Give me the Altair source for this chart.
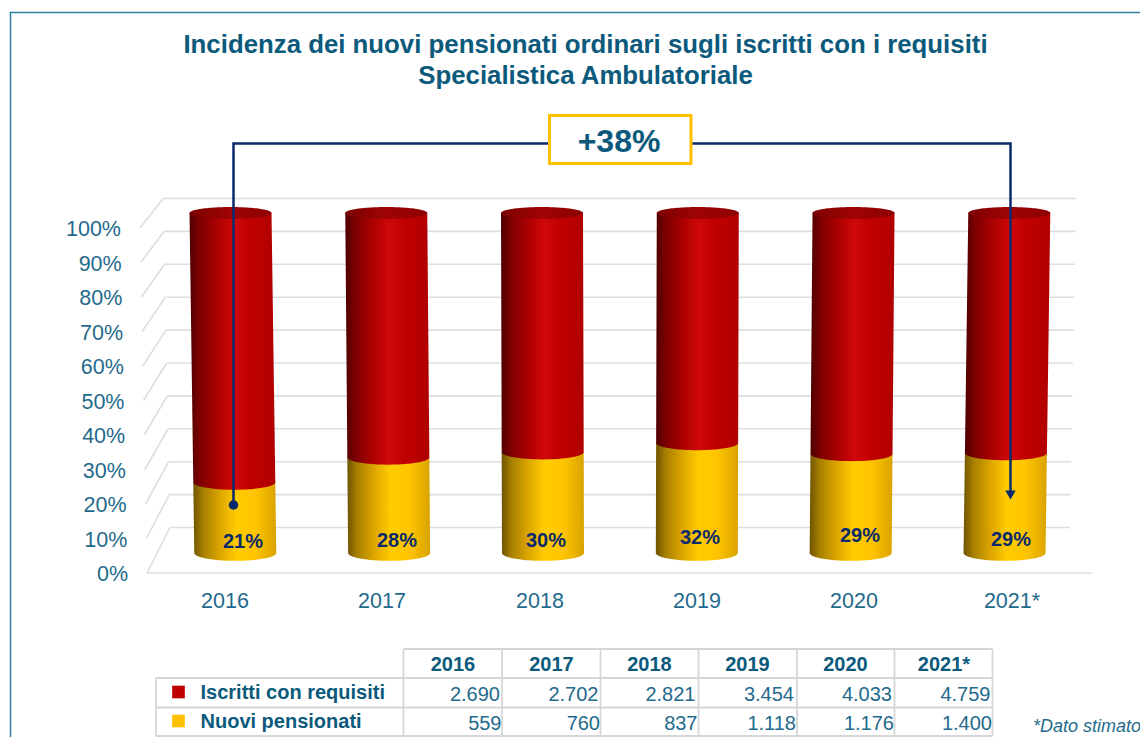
import math
import altair as alt
import pandas as pd

# ---- data ----
years = ["2016", "2017", "2018", "2019", "2020", "2021*"]
iscritti = [2690, 2702, 2821, 3454, 4033, 4759]
nuovi = [559, 760, 837, 1118, 1176, 1400]
tick_levels = [0, 10, 20, 30, 40, 50, 60, 70, 80, 90, 100]
title_lines = ["Incidenza dei nuovi pensionati ordinari sugli iscritti con i requisiti",
               "Specialistica Ambulatoriale"]
callout = "+38%"
note = "*Dato stimato"
series_names = ["Iscritti con requisiti", "Nuovi pensionati"]

# ---- layout ----
W, H = 1132, 729
TEAL = "#0b5a7c"
AXT = "#1f6a8c"
NAVY = "#0b2a6b"
GRID = "#dedede"


def sx(px):  # screen x -> slot units (1 slot = one cylinder spacing)
    return (px - 232.9) / 154.8


def sy(py):  # screen y -> percent of cylinder height
    return (553 - py) / 3.4


xs = alt.Scale(domain=[sx(8), sx(8 + W)], range=[0, W], nice=False, zero=False)
ys = alt.Scale(domain=[sy(8 + H), sy(8)], range=[H, 0], nice=False, zero=False)
X = alt.X("x:Q", scale=xs, axis=None, stack=None)
Y = alt.Y("y:Q", scale=ys, axis=None, stack=None)


def grad(stops):
    return alt.LinearGradient(
        gradient="linear", x1=0, x2=1, y1=0, y2=0,
        stops=[alt.GradientStop(color=c, offset=o) for o, c in stops])


RED = grad([(0, "#4f0000"), (0.12, "#7d0000"), (0.32, "#ab0000"), (0.52, "#d00808"), (0.72, "#c00000"), (1, "#b00000")])
YEL = grad([(0, "#6f5300"), (0.12, "#a87f00"), (0.32, "#dca500"), (0.52, "#ffcc00"), (0.75, "#ffc400"), (1, "#d9a300")])
TOP = grad([(0, "#7c0000"), (0.5, "#a00404"), (1, "#8c0000")])

R = 41.0


def center(i, level):
    c = 232.9 + 154.8 * i
    return c + 0.0123 * (c - 620) * (level - 50) / 100


def ry(level):
    return 6 + 1.8 * (100 - level) / 100


def shell(i, hi, lo):
    """Side outline from level hi down to level lo, closed by a curved lower edge."""
    rows = []
    for k in range(0, 11):
        lv = hi + (lo - hi) * k / 10
        c = center(i, lv)
        rows.append(dict(year=years[i], x=sx(c - R), x2=sx(c + R), y=lv))
    c = center(i, lo)
    base = 553 - 3.4 * lo
    for k in range(1, 31):
        t = k / 30 * math.pi / 2
        rows.append(dict(year=years[i], x=sx(c - R * math.cos(t)), x2=sx(c + R * math.cos(t)),
                         y=sy(base + ry(lo) * math.sin(t))))
    return rows


def disc(i, lv):
    rows = []
    c = center(i, lv)
    base = 553 - 3.4 * lv
    for k in range(0, 61):
        t = -math.pi / 2 + k / 60 * math.pi
        rows.append(dict(year=years[i], x=sx(c - R * math.cos(t)), x2=sx(c + R * math.cos(t)),
                         y=sy(base + ry(lv) * math.sin(t))))
    return rows


shares = [n / s * 100 for n, s in zip(nuovi, iscritti)]
yellow_rows, red_rows, top_rows = [], [], []
for i, sh in enumerate(shares):
    yellow_rows += shell(i, sh, 0)
    red_rows += shell(i, 100, sh)
    top_rows += disc(i, 100)


def area(rows, fill):
    return alt.Chart(pd.DataFrame(rows)).mark_area(orient="horizontal", color=fill, interpolate="linear").encode(
        x=X, x2="x2:Q", y=Y, detail="year:N")


def poly(rows, color, width):
    df = pd.DataFrame(rows)
    return alt.Chart(df).mark_line(color=color, strokeWidth=width, interpolate="linear").encode(
        x=X, y=Y, detail="g:N", order=alt.Order("o:Q"))


def seg(g, pts):
    return [dict(g=g, o=k, x=sx(a), y=sy(b)) for k, (a, b) in enumerate(pts)]


def text(rows, align="center", size=20, bold=False, color=TEAL, italic=False):
    return alt.Chart(pd.DataFrame(rows)).mark_text(
        align=align, baseline="middle", fontSize=size, font="Liberation Sans",
        fontWeight="bold" if bold else "normal", fontStyle="italic" if italic else "normal",
        color=color).encode(x=X, y=Y, text="t:N")


def cell(px, py, t):
    return dict(x=sx(px), y=sy(py), t=t)


def dotted(v):
    return f"{v:,}".replace(",", ".")


# frame
frame = poly(seg("f", [(10.5, 737), (10.5, 12.5), (1140, 12.5)]), "#2f7f9f", 1.5)

# wall, floor and grid
grid_rows = []
for lv in tick_levels:
    f = lv / 100
    by = 527.5 - 329 * f
    fy = 573 - 345 * f
    bl = 170 - 6.7 * f
    fl = 147 - 7 * f
    br = 1070 + 6 * f
    grid_rows += seg(f"b{lv}", [(bl, by), (br, by)])
    grid_rows += seg(f"s{lv}", [(bl, by), (fl, fy)])
grid_rows += seg("floor", [(147, 573), (1092, 573)])
grid = poly(grid_rows, GRID, 1.6)

# axis labels
tick_rows = [cell(128 - 7 * lv / 100, 575 - 345 * lv / 100, f"{lv}%") for lv in tick_levels]
ticks = text(tick_rows, align="right", size=21.5, color=AXT)
year_px = [225, 382, 540, 697, 854, 1012]
year_labels = text([cell(p, 602, y) for p, y in zip(year_px, years)], size=21.5, color=AXT)

# share labels
label_px = [(243, 542), (397, 541), (546, 541), (700, 538), (860, 536), (1011, 540)]
share_labels = text([cell(a, b, f"{round(s)}%") for (a, b), s in zip(label_px, shares)],
                    size=20, bold=True, color=NAVY)

# callout
conn = poly(seg("c", [(233.5, 505), (233.5, 143.5), (1010.5, 143.5), (1010.5, 492)]), NAVY, 2.5)
dot = alt.Chart(pd.DataFrame([cell(233.5, 505, "")])).mark_point(
    shape="circle", filled=True, size=90, color=NAVY, opacity=1).encode(x=X, y=Y)
arrow = alt.Chart(pd.DataFrame([cell(1010.5, 495, "")])).mark_point(
    shape="triangle-down", filled=True, size=110, color=NAVY, opacity=1).encode(x=X, y=Y)
box = alt.Chart(pd.DataFrame([dict(x=sx(549.5), x2=sx(691), y=sy(115.5), y2=sy(163.5))])).mark_rect(
    fill="white", stroke="#ffc000", strokeWidth=3).encode(x=X, x2="x2:Q", y=Y, y2="y2:Q")
box_text = text([cell(619, 142, callout)], size=32, bold=True)

# title
title = text([cell(585.5, 45, title_lines[0]), cell(585.5, 76, title_lines[1])], size=25.8, bold=True)

# table
col_px = [403.5, 502, 600.5, 698.5, 797, 894.5, 992.5]
tbl = []
for k, (a, b, c, d) in enumerate([
    (403.5, 992.5, 649, 649), (156, 992.5, 678, 678), (156, 992.5, 707.5, 707.5), (156, 992.5, 736, 736),
    (156, 156, 678, 736),
]):
    tbl += seg(f"h{k}", [(a, c), (b, d)])
for k, p in enumerate(col_px):
    tbl += seg(f"v{k}", [(p, 649), (p, 736)])
table = poly(tbl, "#d6d6d6", 1.8)

head_px = [453, 551.5, 649.5, 747.5, 845.5, 944]
head = text([cell(p, 665, y) for p, y in zip(head_px, years)], size=20, bold=True)
row1_px = [500, 598.5, 695.5, 794, 892, 990.5]
row2_px = [501.5, 600, 697.5, 796, 894, 992]
row1 = text([cell(p, 695, dotted(v)) for p, v in zip(row1_px, iscritti)], align="right", size=20, color=AXT)
row2 = text([cell(p, 724, dotted(v)) for p, v in zip(row2_px, nuovi)], align="right", size=20, color=AXT)
names = text([cell(200.5, 693, series_names[0]), cell(200.5, 722, series_names[1])],
             align="left", size=20, bold=True)
sq = alt.Chart(pd.DataFrame([dict(x=sx(178.5), y=sy(692), c="#c00000"), dict(x=sx(178.5), y=sy(721), c="#ffc000")])).mark_point(
    shape="square", filled=True, size=160, opacity=1).encode(x=X, y=Y, color=alt.Color("c:N", scale=None))
foot = text([cell(1033, 727, note)], align="left", size=18, italic=True, color=AXT)

chart = alt.layer(
    frame, grid, ticks, year_labels,
    area(yellow_rows, YEL), area(red_rows, RED), area(top_rows, TOP),
    share_labels, conn, dot, arrow, box, box_text, title,
    table, head, row1, row2, names, sq, foot,
).properties(width=W, height=H, padding=0, autosize=alt.AutoSizeParams(type="none")
).configure_view(stroke=None)

chart.save("out.html", embed_options={"renderer": "svg", "actions": False})
